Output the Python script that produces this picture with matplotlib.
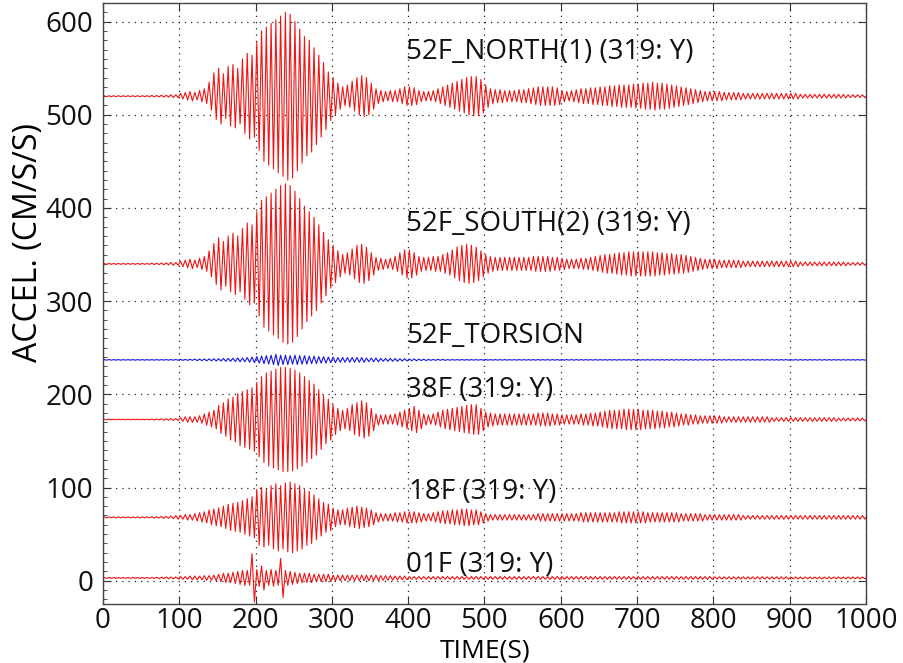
import numpy as np
import matplotlib.pyplot as plt
from matplotlib.ticker import MultipleLocator

plt.rcParams["font.family"] = ["Open Sans", "DejaVu Sans"]

# ============================================================
# Data: peak amplitude of each oscillation cycle (CM/S/S),
# one row = 50 s (8 cycles of 6.25 s)
# ============================================================

PERIOD = 6.25
T_END = 1000

north_amp = [
    0.5, 0.5, 0.5, 0.5, 0.5, 0.5, 0.5, 0.5,
    0.5, 0.5, 0.8, 0.8, 1, 1, 1.5, 1.5,
    3, 4, 5, 4, 6, 8, 15, 25,
    30, 24, 32, 34, 30, 40, 46, 44,
    58, 70, 74, 78, 82, 86, 90, 88,
    80, 72, 64, 60, 52, 44, 36, 26,
    20, 14, 10, 12, 16, 20, 22, 20,
    14, 8, 6, 5, 6, 6, 8, 10,
    10, 9, 6, 5, 5, 6, 8, 10,
    12, 14, 16, 18, 20, 21, 21, 18,
    12, 8, 7, 7, 6, 6, 6, 7,
    7, 8, 9, 10, 10, 10, 10, 9,
    6, 5, 6, 7, 8, 8, 9, 9,
    10, 10, 11, 11, 12, 12, 12, 13,
    13, 14, 14, 15, 14, 14, 13, 12,
    11, 10, 9, 8, 7, 6, 5, 5,
    5, 5, 4, 4, 4, 4, 3, 3,
    3, 3, 3, 3, 3, 3, 3, 3,
    3, 3, 2, 2, 2, 2, 2, 2,
    2, 2, 2, 2, 1.5, 1.5, 1.5, 1.5,
]

south_amp = [
    0.5, 0.5, 0.5, 0.5, 0.5, 0.5, 0.5, 0.5,
    0.5, 0.5, 0.8, 0.8, 1, 1, 1.5, 1.5,
    3, 4, 5, 4, 6, 8, 14, 22,
    28, 24, 30, 33, 30, 38, 44, 42,
    56, 68, 72, 76, 80, 84, 86, 84,
    78, 70, 62, 56, 50, 42, 34, 26,
    20, 14, 10, 12, 16, 20, 21, 18,
    12, 7, 6, 5, 6, 8, 12, 15,
    15, 12, 8, 7, 7, 8, 8, 10,
    12, 15, 18, 20, 21, 20, 18, 14,
    10, 8, 7, 7, 7, 7, 7, 7,
    7, 7, 8, 8, 8, 8, 7, 7,
    6, 5, 5, 5, 6, 6, 7, 8,
    9, 10, 10, 11, 12, 12, 13, 13,
    13, 13, 13, 13, 12, 12, 11, 11,
    10, 10, 9, 8, 7, 6, 5, 5,
    5, 4, 4, 4, 4, 4, 3, 3,
    3, 3, 3, 3, 3, 3, 3, 3,
    3, 3, 2, 2, 2, 2, 2, 2,
    2, 2, 2, 2, 1.5, 1.5, 1.5, 1.5,
]

torsion_amp = [
    0.3, 0.3, 0.3, 0.3, 0.3, 0.3, 0.3, 0.3,
    0.3, 0.3, 0.3, 0.3, 0.3, 0.3, 0.3, 0.3,
    0.5, 0.5, 0.5, 0.8, 0.8, 1, 1, 1.2,
    1.2, 1.5, 1.5, 1.8, 2, 2, 2.5, 3,
    3.5, 4, 4.5, 5, 6, 5, 5, 4.5,
    5, 4.5, 4.5, 4, 4, 3.5, 3.5, 3,
    3, 2.5, 2.5, 2.5, 2.5, 2.5, 2.5, 2,
    2, 2, 1.5, 1.5, 1.5, 1.5, 1.2, 1.2,
    1, 1, 0.8, 0.8, 0.5, 0.5, 0.5, 0.5,
    0.3, 0.3, 0.3, 0.3, 0.3, 0.3, 0.3, 0.3,
    0.3, 0.3, 0.3, 0.3, 0.3, 0.3, 0.3, 0.3,
    0.3, 0.3, 0.3, 0.3, 0.3, 0.3, 0.3, 0.3,
    0.3, 0.3, 0.3, 0.3, 0.3, 0.3, 0.3, 0.3,
    0.3, 0.3, 0.3, 0.3, 0.3, 0.3, 0.3, 0.3,
    0.3, 0.3, 0.3, 0.3, 0.3, 0.3, 0.3, 0.3,
    0.3, 0.3, 0.3, 0.3, 0.3, 0.3, 0.3, 0.3,
    0.3, 0.3, 0.3, 0.3, 0.3, 0.3, 0.3, 0.3,
    0.3, 0.3, 0.3, 0.3, 0.3, 0.3, 0.3, 0.3,
    0.3, 0.3, 0.3, 0.3, 0.3, 0.3, 0.3, 0.3,
    0.3, 0.3, 0.3, 0.3, 0.3, 0.3, 0.3, 0.3,
]

f38_amp = [
    0.3, 0.3, 0.3, 0.3, 0.3, 0.3, 0.3, 0.3,
    0.3, 0.3, 0.5, 0.5, 0.8, 0.8, 1, 1,
    2, 3, 3, 3, 4, 6, 8, 10,
    15, 18, 22, 24, 28, 30, 32, 34,
    40, 46, 50, 52, 54, 56, 56, 55,
    53, 50, 46, 42, 38, 32, 26, 22,
    16, 12, 10, 12, 16, 18, 20, 18,
    12, 6, 5, 5, 5, 6, 8, 10,
    12, 14, 10, 6, 5, 6, 8, 10,
    11, 12, 13, 14, 15, 16, 16, 12,
    8, 7, 6, 6, 6, 6, 6, 6,
    6, 6, 6, 7, 7, 7, 6, 6,
    5, 5, 5, 5, 6, 6, 7, 7,
    8, 9, 10, 10, 10, 11, 11, 11,
    11, 10, 10, 10, 9, 9, 8, 8,
    7, 6, 6, 5, 5, 4, 4, 4,
    4, 4, 3, 3, 3, 3, 3, 3,
    3, 3, 3, 3, 2, 2, 2, 2,
    2, 2, 2, 2, 2, 2, 2, 2,
    2, 2, 1.5, 1.5, 1.5, 1.5, 1.5, 1.5,
]

f18_amp = [
    0.5, 0.5, 0.5, 0.5, 0.5, 0.5, 0.5, 0.5,
    0.5, 0.5, 0.8, 0.8, 1, 1, 1.5, 2,
    2, 3, 3, 4, 5, 6, 8, 9,
    10, 12, 14, 15, 16, 18, 20, 22,
    30, 32, 30, 34, 36, 34, 37, 38,
    36, 34, 30, 28, 24, 20, 16, 14,
    10, 8, 8, 10, 11, 12, 11, 10,
    8, 5, 4, 4, 4, 5, 5, 6,
    6, 6, 5, 4, 4, 5, 6, 7,
    7, 8, 8, 9, 9, 8, 8, 6,
    4, 3, 3, 3, 3, 3, 3, 3,
    3, 3, 3, 4, 4, 4, 4, 4,
    4, 4, 4, 4, 5, 5, 5, 5,
    5, 5, 5, 5, 6, 6, 6, 6,
    6, 6, 5, 5, 5, 5, 5, 5,
    5, 4, 4, 4, 4, 4, 3, 3,
    3, 3, 3, 3, 3, 3, 2, 2,
    2, 2, 2, 2, 2, 2, 2, 2,
    2, 2, 2, 2, 2, 2, 2, 2,
    2, 2, 2, 2, 2, 2, 2, 2,
]

f01_amp = [
    0.5, 0.5, 0.5, 0.5, 0.5, 0.5, 0.5, 0.5,
    0.5, 0.5, 0.5, 0.8, 0.8, 1, 1, 1,
    1.5, 1.5, 2, 2, 2, 2.5, 2.5, 3,
    4, 5, 5, 6, 7, 8, 8, 26,
    9, 13, 8, 9, 8, 21, 8, 7,
    6, 5, 5, 5, 4, 4, 4, 4,
    3, 3, 3, 3, 3, 3, 3, 3,
    3, 3, 2.5, 2.5, 2.5, 2, 2, 2,
    1.5, 1.5, 1.5, 1.5, 1.5, 1.5, 1.5, 1.5,
    1.5, 1.5, 1.5, 1.5, 1.5, 1.5, 1.5, 1.5,
    1.5, 1.5, 1.5, 1.5, 1.5, 1.5, 1.5, 1.5,
    1.5, 1.5, 1.5, 1.5, 1.5, 1.5, 1.5, 1.5,
    1.5, 1.5, 1.5, 1.5, 1.5, 1.5, 1.5, 1.5,
    1.5, 1.5, 1.5, 1.5, 1.5, 1.5, 1.5, 1.5,
    1.5, 1.5, 1.5, 1.5, 1.5, 1.5, 1.5, 1.5,
    1.5, 1.5, 1.5, 1.5, 1.5, 1.5, 1.5, 1.5,
    1.2, 1.2, 1.2, 1.2, 1.2, 1.2, 1.2, 1.2,
    1.2, 1.2, 1.2, 1.2, 1.2, 1.2, 1.2, 1.2,
    1, 1, 1, 1, 1, 1, 1, 1,
    1, 1, 1, 1, 1, 1, 1, 1,
]

names = ["52F_NORTH(1) (319: Y)", "52F_SOUTH(2) (319: Y)", "52F_TORSION",
         "38F (319: Y)", "18F (319: Y)", "01F (319: Y)"]
amps = [north_amp, south_amp, torsion_amp, f38_amp, f18_amp, f01_amp]
offsets = [520, 340, 237, 173, 68, 3]
colors = ["#f01414", "#f01414", "#1414e6", "#f01414", "#f01414", "#f01414"]
label_x = [397, 397, 397, 397, 401, 397]
label_y = [560, 375, 255, 197, 88, 9]


def trace(amp, offset):
    # up/down peak of each cycle, anchored to the baseline at both ends
    amp = np.asarray(amp, dtype=float)
    n = len(amp)
    t = (np.arange(2 * n) + 0.5) * PERIOD / 2
    y = offset + np.repeat(amp, 2) * np.tile([1.0, -1.0], n)
    t = np.concatenate([[0], t, [T_END]])
    y = np.concatenate([[offset], y, [offset]])
    return t, y


fig = plt.figure(figsize=(9.04, 6.63), dpi=100)
ax = fig.add_axes([103 / 904, 59 / 663, 763 / 904, 601 / 663])

for amp, off, c in zip(amps, offsets, colors):
    t, y = trace(amp, off)
    ax.plot(t, y, color=c, lw=0.8)

for name, lx, ly in zip(names, label_x, label_y):
    ax.text(lx, ly, name, fontsize=20, ha="left", va="baseline", color="#111111")

ax.set_xlim(0, 1000)
ax.set_ylim(-25, 620)
ax.xaxis.set_major_locator(MultipleLocator(100))
ax.yaxis.set_major_locator(MultipleLocator(100))
ax.yaxis.set_minor_locator(MultipleLocator(10))

ax.grid(True, which="major", color="#222222", linestyle=(0, (1, 4)), lw=0.9)
ax.tick_params(which="both", direction="in", top=True, right=True,
               labelsize=20, colors="#333333", labelcolor="#111111")
ax.tick_params(which="major", length=6)
ax.tick_params(which="minor", length=3, right=False)
ax.tick_params(axis="x", pad=2)
ax.tick_params(axis="y", pad=7)
for s in ax.spines.values():
    s.set_color("#444444")
    s.set_linewidth(1.0)

fig.text(485 / 904, 0, "TIME(S)", fontsize=19, ha="center", va="bottom")
fig.text(29 / 904, (663 - 243) / 663, "ACCEL. (CM/S/S)", fontsize=23,
         rotation=90, ha="center", va="center")

fig.savefig("out.png", dpi=100)
